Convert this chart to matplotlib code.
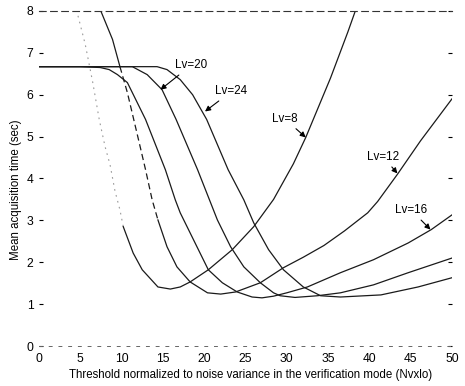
import matplotlib
matplotlib.use('Agg')
import matplotlib.pyplot as plt
import numpy as np

plt.rcParams['font.family'] = ['Liberation Sans', 'DejaVu Sans']

# ---- data ----
lv8_x = [3.8, 4.7, 5.6, 6.5, 7.3, 8.0, 8.6, 9.2, 9.8, 10.2, 11.4, 12.5, 14.4, 15.9, 17.1, 18.3,
         20.5, 23.4, 26.0, 28.4, 30.8, 32.3, 35.3, 37.4, 38.3, 38.7]
lv8_y = [8.3, 7.9, 7.2, 6.3, 5.4, 4.76, 4.33, 3.7, 3.25, 2.85, 2.22, 1.82, 1.41, 1.36, 1.41, 1.53,
         1.82, 2.30, 2.85, 3.5, 4.35, 4.98, 6.4, 7.5, 8.0, 8.25]

lv12_x = [6.9, 7.4, 8.9, 9.8, 10.7, 11.9, 12.9, 13.7, 14.4, 15.5, 16.7, 18.3, 20.4, 22.0, 23.8,
          26.8, 29.6, 32.0, 34.5, 37.0, 39.8, 41.0, 43.4, 46.2, 50.0]
lv12_y = [8.3, 8.04, 7.32, 6.67, 6.05, 5.05, 4.21, 3.49, 3.01, 2.37, 1.89, 1.53, 1.27, 1.24, 1.29,
          1.51, 1.87, 2.12, 2.4, 2.75, 3.18, 3.45, 4.1, 4.9, 5.9]

lv16_x = [0.0, 5.0, 7.4, 8.5, 9.5, 10.7, 12.9, 15.3, 16.5, 17.1, 19.2, 20.5, 22.2, 24.0, 25.8,
          27.0, 28.4, 30.0, 32.5, 36.5, 40.5, 44.7, 47.5, 50.0]
lv16_y = [6.67, 6.67, 6.65, 6.6, 6.48, 6.29, 5.41, 4.21, 3.49, 3.18, 2.34, 1.82, 1.51, 1.29, 1.17,
          1.15, 1.19, 1.27, 1.41, 1.75, 2.06, 2.46, 2.78, 3.13]

lv20_x = [0.0, 5.0, 11.3, 13.1, 14.9, 16.6, 19.2, 20.4, 21.6, 23.2, 24.8, 26.8, 28.4, 29.2, 31.0,
          33.7, 36.5, 40.5, 44.7, 50.0]
lv20_y = [6.67, 6.67, 6.67, 6.48, 6.12, 5.41, 4.21, 3.61, 3.01, 2.37, 1.89, 1.51, 1.27, 1.2, 1.16,
          1.2, 1.27, 1.46, 1.75, 2.1]

lv24_x = [0.0, 5.0, 14.3, 15.5, 17.1, 18.6, 20.3, 22.9, 24.8, 26.0, 27.8, 29.6, 32.0, 34.1, 36.5,
          41.4, 45.9, 50.0]
lv24_y = [6.67, 6.67, 6.67, 6.6, 6.36, 6.0, 5.41, 4.21, 3.49, 2.94, 2.3, 1.82, 1.41, 1.2, 1.17,
          1.22, 1.41, 1.63]

labels = ['Lv=8', 'Lv=12', 'Lv=16', 'Lv=20', 'Lv=24']
label_text_xy = [(29.8, 5.42), (41.7, 4.51), (45.1, 3.24), (18.4, 6.70), (23.3, 6.08)]
label_head_xy = [(32.3, 4.98), (43.4, 4.12), (47.4, 2.78), (14.7, 6.12), (20.1, 5.6)]

x_ticks = [0, 5, 10, 15, 20, 25, 30, 35, 40, 45, 50]
y_ticks = [0, 1, 2, 3, 4, 5, 6, 7, 8]

# ---- figure ----
fig = plt.figure(figsize=(4.65, 3.86), dpi=100)
ax = fig.add_axes([0.0839, 0.1036, 0.888, 0.868])

lc = '#1a1a1a'
lw = 0.9

# Lv=8: upper steep part is very faint in the scan
x8 = np.array(lv8_x); y8 = np.array(lv8_y)
m = x8 <= 10.2
ax.plot(x8[m], y8[m], color='#9a9a9a', lw=0.8, ls=(0, (1.5, 4)))
ax.plot(x8[~m | (x8 == 10.2)], y8[~m | (x8 == 10.2)], color=lc, lw=lw)

# Lv=12: upper steep part appears broken
x12 = np.array(lv12_x); y12 = np.array(lv12_y)
m = x12 <= 14.4
ax.plot(x12[x12 <= 9.8], y12[x12 <= 9.8], color=lc, lw=lw)
mm = (x12 >= 9.8) & (x12 <= 14.4)
ax.plot(x12[mm], y12[mm], color=lc, lw=lw, ls=(0, (5, 3)))
ax.plot(x12[x12 >= 14.4], y12[x12 >= 14.4], color=lc, lw=lw)

ax.plot(lv16_x, lv16_y, color=lc, lw=lw)
ax.plot(lv20_x, lv20_y, color=lc, lw=lw)
ax.plot(lv24_x, lv24_y, color=lc, lw=lw)

for lab, txy, hxy in zip(labels, label_text_xy, label_head_xy):
    ax.annotate(lab, xy=hxy, xytext=txy, ha='center', va='center', fontsize=8.4,
                arrowprops=dict(arrowstyle='-|>', color='black', lw=0.8,
                                mutation_scale=8, shrinkA=1, shrinkB=0))

ax.set_xlim(0, 50)
ax.set_ylim(0, 8)
ax.set_xticks(x_ticks)
ax.set_yticks(y_ticks)
ax.tick_params(axis='x', length=0, pad=5, labelsize=8.7)
ax.tick_params(axis='y', direction='in', length=3, width=0.8, pad=4, labelsize=8.7,
               right=True, left=True)

for s in ['left', 'right']:
    ax.spines[s].set_visible(False)
ax.spines['top'].set_linestyle((0, (6, 4)))
ax.spines['top'].set_linewidth(0.8)
ax.spines['top'].set_color('#333333')
ax.spines['bottom'].set_linestyle((0, (3, 7)))
ax.spines['bottom'].set_linewidth(0.7)
ax.spines['bottom'].set_color('#666666')

fig.text(251 / 465, 1 - 375 / 386, 'Threshold normalized to noise variance in the verification mode (Nvxlo)',
         ha='center', va='center', fontsize=8.3)
fig.text(16 / 465, 1 - 190 / 386, 'Mean acquisition time (sec)', ha='center', va='center',
         rotation=90, fontsize=8.3)

fig.savefig('out.png', dpi=100)
